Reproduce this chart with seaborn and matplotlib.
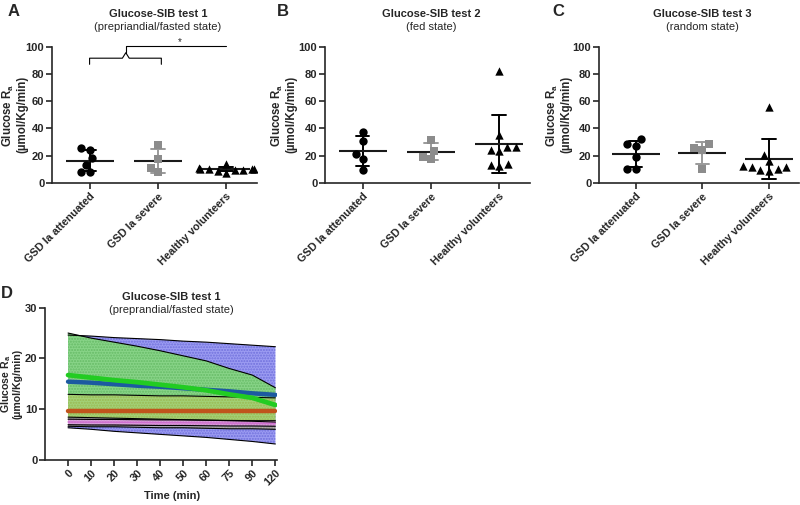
import numpy as np
import pandas as pd
import matplotlib
matplotlib.use("Agg")
import matplotlib.pyplot as plt
import matplotlib.transforms as mtransforms
import seaborn as sns

# ---------------- data ----------------
groups = ["GSD Ia attenuated", "GSD Ia severe", "Healthy volunteers"]

t1_attenuated = [24.3, 25.6, 18.1, 13.4, 7.7, 8.2]
t1_severe = [27.5, 17.6, 7.7, 11.2]
t1_healthy = [14.0, 9.5, 11.0, 10.5, 10.0, 10.5, 7.5, 10.5, 8.5, 9.5]

t2_attenuated = [37.4, 30.8, 21.5, 17.8, 9.8]
t2_severe = [31.5, 23.2, 17.4, 19.3]
t2_healthy = [82.4, 35.2, 26.7, 23.7, 24.4, 26.2, 12.2, 13.4, 14.2]

t3_attenuated = [32.0, 28.8, 27.0, 18.8, 10.3, 10.3]
t3_severe = [28.3, 24.5, 25.8, 10.0]
t3_healthy = [55.8, 20.8, 15.8, 10.0, 9.0, 12.0, 11.5, 12.8, 9.5]

times = ["0", "10", "20", "30", "40", "50", "60", "75", "90", "120"]
blue_mean = [15.4, 15.2, 14.9, 14.6, 14.4, 14.1, 13.8, 13.5, 13.1, 12.8]
blue_upper = [24.6, 24.4, 24.1, 23.9, 23.7, 23.4, 23.2, 22.9, 22.6, 22.3]
blue_lower = [6.3, 6.0, 5.6, 5.3, 5.0, 4.7, 4.4, 4.0, 3.6, 3.1]
green_mean = [16.7, 16.2, 15.7, 15.3, 14.8, 14.3, 13.7, 12.9, 12.2, 10.8]
green_upper = [25.0, 24.0, 23.2, 22.4, 21.5, 20.5, 19.5, 18.0, 16.7, 14.2]
green_lower = [8.4, 8.3, 8.2, 8.1, 8.0, 7.9, 7.8, 7.7, 7.6, 7.4]
orange_mean = [9.6, 9.6, 9.6, 9.6, 9.6, 9.6, 9.6, 9.6, 9.6, 9.6]
orange_upper = [12.9, 12.8, 12.8, 12.7, 12.6, 12.6, 12.5, 12.4, 12.3, 12.2]
orange_lower = [6.6, 6.5, 6.5, 6.4, 6.3, 6.3, 6.2, 6.1, 6.1, 6.0]
pink_mean = [7.45, 7.4, 7.4, 7.35, 7.3, 7.3, 7.25, 7.2, 7.2, 7.15]
pink_upper = [8.0, 7.95, 7.95, 7.9, 7.85, 7.85, 7.8, 7.75, 7.7, 7.7]
pink_lower = [6.9, 6.85, 6.85, 6.8, 6.75, 6.75, 6.7, 6.65, 6.65, 6.6]

# ---------------- style ----------------
sns.set_style("ticks")
plt.rcParams["font.family"] = ["Liberation Sans", "DejaVu Sans"]
plt.rcParams["mathtext.fontset"] = "custom"
plt.rcParams["mathtext.rm"] = "Liberation Sans"
plt.rcParams["mathtext.bf"] = "Liberation Sans:bold"
plt.rcParams["axes.linewidth"] = 1.2
plt.rcParams["xtick.major.width"] = 1.2
plt.rcParams["ytick.major.width"] = 1.2
plt.rcParams["xtick.major.size"] = 4
plt.rcParams["ytick.major.size"] = 4

W, H = 800, 505
fig = plt.figure(figsize=(8.0, 5.05), dpi=100)


def px_axes(left, top, width, height):
    return fig.add_axes([left / W, 1 - (top + height) / H, width / W, height / H])


markers = ["o", "s", "^"]
pt_colors = ["black", "#8c8c8c", "black"]
err_colors = {groups[0]: "black", groups[1]: "#9a9a9a", groups[2]: "black"}
ylab = "Glucose R$_{\\mathbf{a}}$\n(µmol/Kg/min)"
TICK_FS = 8


def style_yaxis(ax, label_x, fs=8.3, ls=1.05):
    for lab in ax.get_yticklabels():
        lab.set_fontweight("bold")
        lab.set_fontsize(TICK_FS)
    ax.set_ylabel(ylab, fontsize=fs, fontweight="bold", linespacing=ls)
    ax.yaxis.set_label_coords(label_x, 0.5)
    ax.tick_params(axis="y", pad=1.5)


def scatter_panel(ax, vals, title, sub, label_x):
    df = pd.DataFrame({
        "group": np.repeat(groups, [len(v) for v in vals]),
        "value": np.concatenate(vals),
    })
    for g, m, c in zip(groups, markers, pt_colors):
        sns.swarmplot(data=df[df.group == g], x="group", y="value", order=groups,
                      marker=m, color=c, size=6, linewidth=0, ax=ax, zorder=3)
    sns.pointplot(data=df, x="group", y="value", order=groups, hue="group",
                  palette=err_colors, errorbar="sd", capsize=0.2, linestyle="none",
                  markersize=0, err_kws={"linewidth": 1.4}, legend=False, ax=ax)
    sns.pointplot(data=df, x="group", y="value", order=groups, errorbar=None,
                  linestyle="none", marker="_", markersize=34, markeredgewidth=1.5,
                  color="#1a1a1a", ax=ax)
    ax.set_xlim(-0.55, 2.45)
    ax.set_ylim(0, 100)
    ax.set_yticks([0, 20, 40, 60, 80, 100])
    ax.set_xlabel("")
    style_yaxis(ax, label_x)
    ax.set_xticks(range(3))
    ax.set_xticklabels(groups, rotation=45, ha="right", rotation_mode="anchor",
                       fontsize=7.8, fontweight="bold")
    ax.tick_params(axis="x", pad=2)
    sns.despine(ax=ax)
    tr = mtransforms.blended_transform_factory(ax.transData, ax.transAxes)
    ax.text(1, 1.24, title, transform=tr, ha="center", va="center",
            fontsize=8, fontweight="bold")
    ax.text(1, 1.145, sub, transform=tr, ha="center", va="center", fontsize=8)


axA = px_axes(52, 46.6, 205, 136.4)
axB = px_axes(325, 46.6, 205, 136.4)
axC = px_axes(599, 46.6, 200, 136.4)

scatter_panel(axA, [t1_attenuated, t1_severe, t1_healthy],
              "Glucose-SIB test 1", "(prepriandial/fasted state)", -0.115)
scatter_panel(axB, [t2_attenuated, t2_severe, t2_healthy],
              "Glucose-SIB test 2", "(fed state)", -0.135)
scatter_panel(axC, [t3_attenuated, t3_severe, t3_healthy],
              "Glucose-SIB test 3", "(random state)", -0.135)

# significance bracket in A
bx = [0, 0, 0.48, 0.53, 0.58, 1.05, 1.05]
by = [87, 91.5, 91.5, 95.5, 91.5, 91.5, 87]
axA.plot(bx, by, color="black", lw=0.8, clip_on=False)
axA.plot([0.53, 0.53, 2.0], [95.5, 100.7, 100.7], color="black", lw=0.8, clip_on=False)
axA.text(1.32, 103.5, "*", ha="center", va="center", fontsize=7)

# ---------------- panel D ----------------
axD = px_axes(45, 307.7, 232, 152)
dfD = pd.DataFrame({"time": times, "blue": blue_mean, "green": green_mean,
                    "orange": orange_mean, "pink": pink_mean})

bands = [
    (blue_lower, blue_upper, "#9c9cf2", "#7070dc", 1.0),
    (green_lower, green_upper, "#88d488", "#66bb66", 1.0),
    (orange_lower, orange_upper, "#d8cf5a", "#b9b040", 0.35),
    (pink_lower, pink_upper, "#e6a0e6", "#c878c8", 0.8),
]
for lo, hi, fc, hc, a in bands:
    axD.fill_between(times, lo, hi, facecolor=fc, edgecolor=hc, hatch="......",
                     linewidth=0, alpha=a, zorder=1)
    axD.plot(times, lo, color="black", lw=0.8, zorder=2)
    axD.plot(times, hi, color="black", lw=0.8, zorder=2)

sns.lineplot(data=dfD, x="time", y="orange", color="#c0541c", lw=3.2, ax=axD, zorder=4)
sns.lineplot(data=dfD, x="time", y="pink", color="#d070d0", lw=1.0, ax=axD, zorder=4)
sns.lineplot(data=dfD, x="time", y="blue", color="#1c5aa0", lw=3.2, ax=axD, zorder=5)
sns.lineplot(data=dfD, x="time", y="green", color="#22cc22", lw=3.4, ax=axD, zorder=6)

axD.set_xlim(-1, 9.07)
axD.set_ylim(0, 30)
axD.set_yticks([0, 10, 20, 30])
axD.set_xticks(range(len(times)))
axD.set_xticklabels(times, rotation=45, ha="right", rotation_mode="anchor",
                    fontsize=7.8, fontweight="bold")
axD.tick_params(axis="x", pad=2)
axD.set_xlabel("")
style_yaxis(axD, -0.097, fs=7.6, ls=0.95)
sns.despine(ax=axD)
trD = mtransforms.blended_transform_factory(axD.transData, axD.transAxes)
axD.text(4.5, -0.24, "Time (min)", transform=trD, ha="center", va="center",
         fontsize=8, fontweight="bold")
axD.text(4.5, 1.07, "Glucose-SIB test 1", transform=trD, ha="center", va="center",
         fontsize=8, fontweight="bold")
axD.text(4.5, 0.985, "(preprandial/fasted state)", transform=trD, ha="center",
         va="center", fontsize=8)

# panel letters
for letter, x, y in [("A", 13.5, 11), ("B", 283, 11), ("C", 558.5, 11), ("D", 6.5, 294)]:
    fig.text(x / W, 1 - y / H, letter, ha="center", va="center",
             fontsize=12, fontweight="bold")

fig.savefig("out.png", dpi=100)
